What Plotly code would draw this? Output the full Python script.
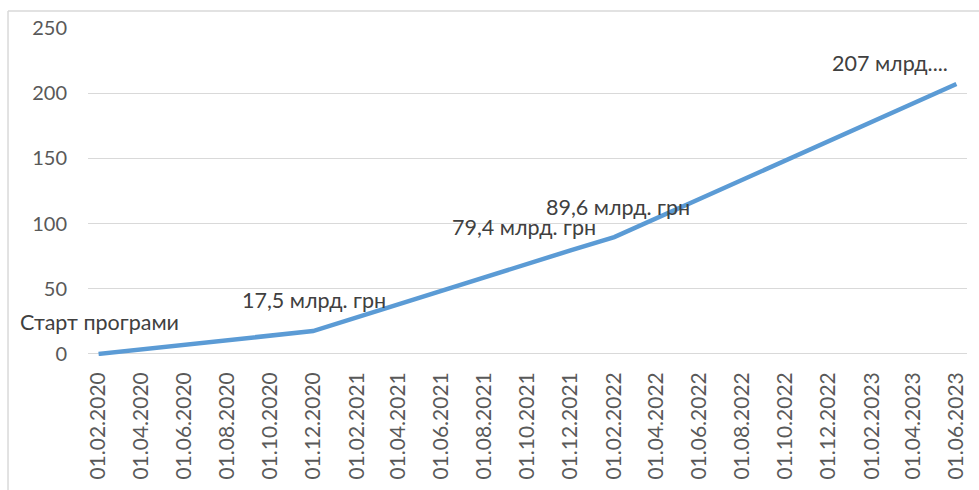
import plotly.graph_objects as go

dates = ["2020-02-01", "2020-12-01", "2021-12-01", "2022-02-01", "2023-06-01"]
values = [0, 17.5, 79.4, 89.6, 207]
labels = ["Старт програми", "17,5 млрд. грн", "79,4 млрд. грн", "89,6 млрд. грн", "207 млрд...."]
label_shift_x = [1, 1, -47, 4, -66]
label_shift_y = [32, 31, 23, 30, 21]

font_family = "Lato, Carlito, 'Open Sans', sans-serif"
text_color = "#595959"
grid_color = "#D9D9D9"

fig = go.Figure()
fig.add_trace(go.Scatter(
    x=dates, y=values, mode="lines",
    line=dict(color="#5B9BD5", width=4.5),
    hoverinfo="skip",
))

for d, v, t, sx, sy in zip(dates, values, labels, label_shift_x, label_shift_y):
    fig.add_annotation(x=d, y=v, text=t, showarrow=False,
                       xshift=sx, yshift=sy,
                       font=dict(family=font_family, size=21.5, color="#404040"))

# outer chart border (top and left visible)
fig.add_shape(type="line", xref="paper", yref="paper",
              x0=-0.091, x1=1.02, y0=1.052, y1=1.052,
              line=dict(color=grid_color, width=1.5))
fig.add_shape(type="line", xref="paper", yref="paper",
              x0=-0.091, x1=-0.091, y0=1.052, y1=-0.45,
              line=dict(color=grid_color, width=1.5))

fig.update_layout(
    width=979, height=490,
    margin=dict(l=88, r=12, t=28, b=134, autoexpand=False),
    paper_bgcolor="white", plot_bgcolor="white",
    showlegend=False,
    font=dict(family=font_family, size=20, color=text_color),
    xaxis=dict(
        type="date",
        range=["2020-01-17", "2023-06-16"],
        tick0="2020-02-01", dtick="M2",
        tickformat="%d.%m.%Y",
        tickangle=-90, automargin=False,
        showgrid=False, zeroline=False, showline=False,
        ticks="", ticklabelstandoff=11,
        tickfont=dict(family=font_family, size=21, color=text_color),
    ),
    yaxis=dict(
        range=[-1.6, 250], tickvals=[0, 50, 100, 150, 200, 250],
        automargin=False,
        showgrid=True, gridcolor=grid_color, gridwidth=1.3,
        zeroline=True, zerolinecolor=grid_color, zerolinewidth=1.3,
        showline=False, ticks="", ticklabelstandoff=20,
        tickfont=dict(family=font_family, size=20, color=text_color),
    ),
)

fig.write_html("out.html")
